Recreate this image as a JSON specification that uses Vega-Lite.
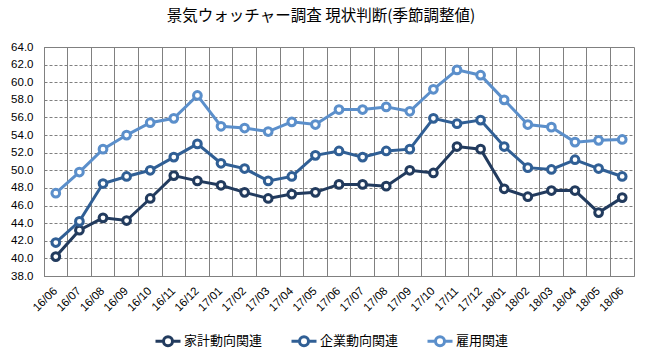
{
  "$schema": "https://vega.github.io/schema/vega-lite/v6.json",
  "width": 590,
  "height": 229,
  "autosize": "none",
  "padding": {"left": 44, "top": 47, "right": 15, "bottom": 85},
  "background": "white",
  "title": {
    "text": "景気ウォッチャー調査 現状判断(季節調整値)",
    "font": "Noto Sans CJK JP",
    "fontSize": 15.5,
    "fontWeight": "normal",
    "color": "#000000",
    "anchor": "middle",
    "dx": -18,
    "offset": 17
  },
  "config": {
    "view": {"stroke": "#808080", "strokeWidth": 1},
    "axis": {"labelFont": "Liberation Sans", "labelFontSize": 11, "labelColor": "#000000"}
  },
  "data": {
    "values": [
      {"month": "16/06", "series": "家計動向関連", "value": 40.2},
      {"month": "16/07", "series": "家計動向関連", "value": 43.2},
      {"month": "16/08", "series": "家計動向関連", "value": 44.6},
      {"month": "16/09", "series": "家計動向関連", "value": 44.3},
      {"month": "16/10", "series": "家計動向関連", "value": 46.8},
      {"month": "16/11", "series": "家計動向関連", "value": 49.4},
      {"month": "16/12", "series": "家計動向関連", "value": 48.8},
      {"month": "17/01", "series": "家計動向関連", "value": 48.3},
      {"month": "17/02", "series": "家計動向関連", "value": 47.5},
      {"month": "17/03", "series": "家計動向関連", "value": 46.8},
      {"month": "17/04", "series": "家計動向関連", "value": 47.3},
      {"month": "17/05", "series": "家計動向関連", "value": 47.5},
      {"month": "17/06", "series": "家計動向関連", "value": 48.4},
      {"month": "17/07", "series": "家計動向関連", "value": 48.4},
      {"month": "17/08", "series": "家計動向関連", "value": 48.2},
      {"month": "17/09", "series": "家計動向関連", "value": 50.0},
      {"month": "17/10", "series": "家計動向関連", "value": 49.7},
      {"month": "17/11", "series": "家計動向関連", "value": 52.7},
      {"month": "17/12", "series": "家計動向関連", "value": 52.4},
      {"month": "18/01", "series": "家計動向関連", "value": 47.9},
      {"month": "18/02", "series": "家計動向関連", "value": 47.0},
      {"month": "18/03", "series": "家計動向関連", "value": 47.7},
      {"month": "18/04", "series": "家計動向関連", "value": 47.7},
      {"month": "18/05", "series": "家計動向関連", "value": 45.2},
      {"month": "18/06", "series": "家計動向関連", "value": 46.9},
      {"month": "16/06", "series": "企業動向関連", "value": 41.8},
      {"month": "16/07", "series": "企業動向関連", "value": 44.2},
      {"month": "16/08", "series": "企業動向関連", "value": 48.5},
      {"month": "16/09", "series": "企業動向関連", "value": 49.3},
      {"month": "16/10", "series": "企業動向関連", "value": 50.0},
      {"month": "16/11", "series": "企業動向関連", "value": 51.5},
      {"month": "16/12", "series": "企業動向関連", "value": 53.0},
      {"month": "17/01", "series": "企業動向関連", "value": 50.8},
      {"month": "17/02", "series": "企業動向関連", "value": 50.2},
      {"month": "17/03", "series": "企業動向関連", "value": 48.8},
      {"month": "17/04", "series": "企業動向関連", "value": 49.3},
      {"month": "17/05", "series": "企業動向関連", "value": 51.7},
      {"month": "17/06", "series": "企業動向関連", "value": 52.2},
      {"month": "17/07", "series": "企業動向関連", "value": 51.5},
      {"month": "17/08", "series": "企業動向関連", "value": 52.2},
      {"month": "17/09", "series": "企業動向関連", "value": 52.4},
      {"month": "17/10", "series": "企業動向関連", "value": 55.9},
      {"month": "17/11", "series": "企業動向関連", "value": 55.3},
      {"month": "17/12", "series": "企業動向関連", "value": 55.7},
      {"month": "18/01", "series": "企業動向関連", "value": 52.7},
      {"month": "18/02", "series": "企業動向関連", "value": 50.3},
      {"month": "18/03", "series": "企業動向関連", "value": 50.1},
      {"month": "18/04", "series": "企業動向関連", "value": 51.2},
      {"month": "18/05", "series": "企業動向関連", "value": 50.2},
      {"month": "18/06", "series": "企業動向関連", "value": 49.3},
      {"month": "16/06", "series": "雇用関連", "value": 47.4},
      {"month": "16/07", "series": "雇用関連", "value": 49.8},
      {"month": "16/08", "series": "雇用関連", "value": 52.4},
      {"month": "16/09", "series": "雇用関連", "value": 54.0},
      {"month": "16/10", "series": "雇用関連", "value": 55.4},
      {"month": "16/11", "series": "雇用関連", "value": 55.9},
      {"month": "16/12", "series": "雇用関連", "value": 58.5},
      {"month": "17/01", "series": "雇用関連", "value": 55.0},
      {"month": "17/02", "series": "雇用関連", "value": 54.8},
      {"month": "17/03", "series": "雇用関連", "value": 54.4},
      {"month": "17/04", "series": "雇用関連", "value": 55.5},
      {"month": "17/05", "series": "雇用関連", "value": 55.2},
      {"month": "17/06", "series": "雇用関連", "value": 56.9},
      {"month": "17/07", "series": "雇用関連", "value": 56.9},
      {"month": "17/08", "series": "雇用関連", "value": 57.2},
      {"month": "17/09", "series": "雇用関連", "value": 56.7},
      {"month": "17/10", "series": "雇用関連", "value": 59.2},
      {"month": "17/11", "series": "雇用関連", "value": 61.4},
      {"month": "17/12", "series": "雇用関連", "value": 60.8},
      {"month": "18/01", "series": "雇用関連", "value": 58.0},
      {"month": "18/02", "series": "雇用関連", "value": 55.2},
      {"month": "18/03", "series": "雇用関連", "value": 54.9},
      {"month": "18/04", "series": "雇用関連", "value": 53.2},
      {"month": "18/05", "series": "雇用関連", "value": 53.4},
      {"month": "18/06", "series": "雇用関連", "value": 53.5}
    ]
  },
  "encoding": {
    "x": {
      "field": "month",
      "type": "ordinal",
      "sort": null,
      "bandPosition": 0.5,
      "scale": {"type": "band", "paddingInner": 0, "paddingOuter": 0},
      "axis": {
        "title": null,
        "labelAngle": -45,
        "labelAlign": "right",
        "labelBaseline": "middle",
        "labelPadding": 13,
        "labelFontSize": 11.5,
        "ticks": false,
        "grid": true,
        "gridColor": "#808080",
        "gridWidth": 1,
        "bandPosition": 0,
        "domainColor": "#808080",
        "labelColor": "#000000"
      }
    },
    "y": {
      "field": "value",
      "type": "quantitative",
      "scale": {"domain": [38, 64], "nice": false, "zero": false},
      "axis": {
        "title": null,
        "values": [38, 40, 42, 44, 46, 48, 50, 52, 54, 56, 58, 60, 62, 64],
        "format": ".1f",
        "ticks": false,
        "labelPadding": 11,
        "labelFontSize": 11.5,
        "grid": true,
        "gridColor": "#808080",
        "gridDash": [3, 2],
        "gridWidth": 1,
        "domainColor": "#808080"
      }
    },
    "color": {
      "field": "series",
      "type": "nominal",
      "sort": ["家計動向関連", "企業動向関連", "雇用関連"],
      "scale": {
        "domain": ["家計動向関連", "企業動向関連", "雇用関連"],
        "range": ["#223B5E", "#305F95", "#5B8FCB"]
      },
      "legend": {
        "title": null,
        "orient": "none",
        "direction": "horizontal",
        "legendX": 110,
        "legendY": 280,
        "labelFont": "Noto Sans CJK JP",
        "labelFontSize": 13,
        "labelColor": "#000000",
        "labelOffset": 2,
        "columnPadding": 22,
        "symbolType": "M-1,0L-0.36,0M0.36,0L1,0M-0.36,0A0.36,0.36,0,1,1,0.36,0A0.36,0.36,0,1,1,-0.36,0Z",
        "symbolSize": 625,
        "symbolStrokeWidth": 3,
        "symbolFillColor": "white"
      }
    }
  },
  "layer": [
    {"mark": {"type": "line", "strokeWidth": 3}},
    {"mark": {"type": "point", "shape": "circle", "filled": false, "fill": "white", "size": 60, "strokeWidth": 3, "opacity": 1}}
  ]
}
